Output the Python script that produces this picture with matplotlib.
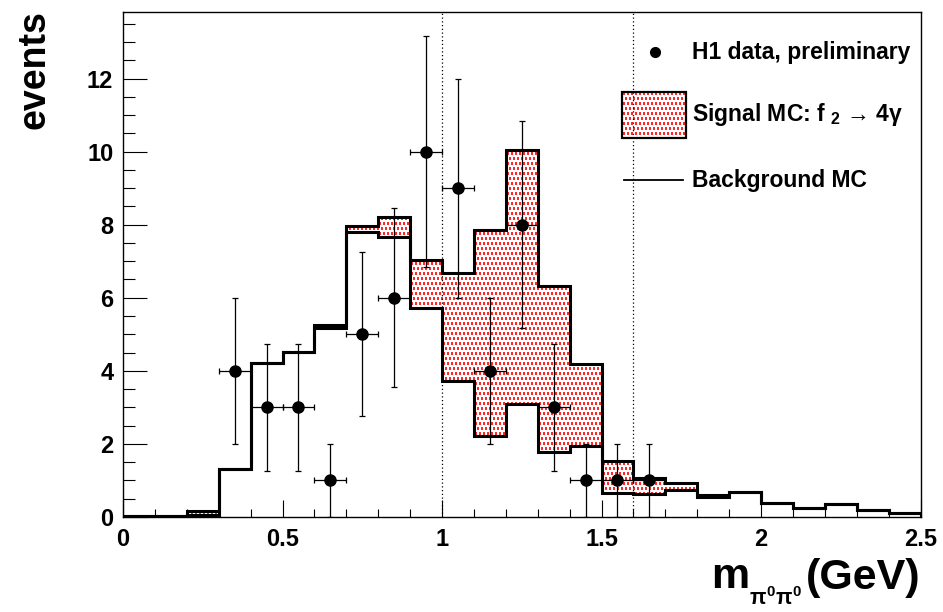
import numpy as np
import matplotlib.pyplot as plt
from matplotlib.patches import Rectangle
from matplotlib.lines import Line2D

plt.rcParams['font.family'] = ['Liberation Sans', 'DejaVu Sans']
plt.rcParams['font.weight'] = 'bold'
plt.rcParams['mathtext.fontset'] = 'custom'
plt.rcParams['mathtext.rm'] = 'Liberation Sans:bold'
plt.rcParams['mathtext.bf'] = 'Liberation Sans:bold'
plt.rcParams['mathtext.it'] = 'Liberation Sans'
plt.rcParams['mathtext.fallback'] = 'stixsans'

# m(pi0 pi0) binning, 0.1 GeV bins
edges = np.linspace(0.0, 2.5, 26)

background = [0.02, 0.02, 0.05, 1.32, 4.21, 4.51, 5.17, 7.79, 7.66, 5.72,
              3.73, 2.23, 3.10, 1.77, 1.93, 0.67, 0.64, 0.74, 0.54, 0.68,
              0.37, 0.25, 0.36, 0.19, 0.10]
signal = [0.00, 0.00, 0.12, 0.00, 0.00, 0.00, 0.08, 0.16, 0.54, 1.32,
          2.96, 5.63, 6.95, 4.54, 2.25, 0.87, 0.42, 0.20, 0.06, 0.00,
          0.00, 0.00, 0.00, 0.00, 0.00]

data_x = [0.35, 0.45, 0.55, 0.65, 0.75, 0.85, 0.95, 1.05, 1.15, 1.25, 1.35, 1.45, 1.55, 1.65]
data_n = [4, 3, 3, 1, 5, 6, 10, 9, 4, 8, 3, 1, 1, 1]
data_err = [2.0, 1.73, 1.73, 1.0, 2.24, 2.45, 3.16, 3.0, 2.0, 2.83, 1.73, 1.0, 1.0, 1.0]
data_xerr = 0.05

xticks = [0, 0.5, 1, 1.5, 2, 2.5]
xtick_labels = ['0', '0.5', '1', '1.5', '2', '2.5']
yticks = [0, 2, 4, 6, 8, 10, 12]
ymax = 13.82

cut_lo, cut_hi = 1.0, 1.6

W, H = 943, 612
def fx(px):
    return px / W
def fy(py):
    return 1 - py / H

fig = plt.figure(figsize=(W / 100, H / 100), dpi=100)
ax = fig.add_axes([fx(123), fy(517), (920.5 - 123) / W, (517 - 12) / H])

# red dash texture used for the signal fill
ph, pw = 505, 798
yy, xx = np.mgrid[0:ph, 0:pw]
on = ((yy % 5) < 3) & (((xx + 2 * ((yy // 5) % 2)) % 4) < 2)
pattern = np.zeros((ph, pw, 4))
pattern[on] = [1.0, 0.0, 0.0, 0.85]

bkg = np.array(background)
tot = bkg + np.array(signal)
band = ax.fill_between(edges, np.append(bkg, bkg[-1]), np.append(tot, tot[-1]),
                       step='post', facecolor='none', lw=0)
im = ax.imshow(pattern, extent=(0, 2.5, 0, ymax), aspect='auto',
               interpolation='nearest', zorder=1)
im.set_clip_path(band.get_paths()[0], ax.transData)

ax.axvline(cut_lo, color='k', ls=(0, (1, 2)), lw=0.9, zorder=2)
ax.axvline(cut_hi, color='k', ls=(0, (1, 2)), lw=0.9, zorder=2)

ax.stairs(tot, edges, color='k', lw=2.2, zorder=3)
ax.stairs(bkg, edges, color='k', lw=2.2, zorder=3)

ax.errorbar(data_x, data_n, yerr=data_err, xerr=data_xerr, fmt='o', color='k',
            ms=8, elinewidth=0.9, capsize=2, capthick=0.9, zorder=4)

ax.set_xlim(0, 2.5)
ax.set_ylim(0, ymax)
ax.set_xticks(xticks, xtick_labels)
ax.set_xticks(np.linspace(0, 2.5, 26), minor=True)
ax.set_yticks(yticks)
ax.set_yticks(np.arange(0, 14, 0.5), minor=True)
ax.tick_params(axis='x', which='major', direction='in', length=12, width=0.8,
               labelsize=17, pad=8)
ax.tick_params(axis='x', which='minor', direction='in', length=6, width=0.8)
ax.tick_params(axis='y', which='major', direction='in', length=17, width=0.8,
               labelsize=17, pad=7)
ax.tick_params(axis='y', which='minor', direction='in', length=8.5, width=0.8)
for s in ax.spines.values():
    s.set_linewidth(1.0)

# axis titles
fig.text(fx(920), fy(589), '(GeV)', fontsize=31, ha='right', va='baseline')
fig.text(fx(711), fy(588), 'm', fontsize=31, ha='left', va='baseline')
fig.text(fx(749), fy(605), r'$\pi^{0}\pi^{0}$', fontsize=15.5, ha='left', va='baseline')
fig.text(fx(35), fy(10), 'events', fontsize=27, rotation=90,
         ha='center', va='top')

# legend
ax.add_line(Line2D([fx(655)], [fy(52)], marker='o', ms=7, color='k',
                   transform=fig.transFigure))
fig.text(fx(692), fy(52), 'H1 data, preliminary', fontsize=16.5, va='center')

box = Rectangle((fx(622), fy(138)), fx(686) - fx(622), fy(92) - fy(138),
                transform=fig.transFigure, facecolor='none', edgecolor='k', lw=1.6,
                zorder=5)
ax.add_patch(box)
box.set_clip_on(False)
im2 = ax.imshow(pattern, extent=(0, 2.5, 0, ymax), aspect='auto',
                interpolation='nearest', zorder=1)
im2.set_clip_path(box)
fig.text(fx(692), fy(115), r'Signal MC: f $_{2}$ → 4γ', fontsize=16.5, va='center')

ax.add_line(Line2D([fx(624), fx(683)], [fy(180), fy(180)], color='k', lw=1.3,
                   transform=fig.transFigure))
fig.text(fx(692), fy(180), 'Background MC', fontsize=16.5, va='center')

ax.set_xlim(0, 2.5)
ax.set_ylim(0, ymax)

fig.savefig('out.png', dpi=100)
